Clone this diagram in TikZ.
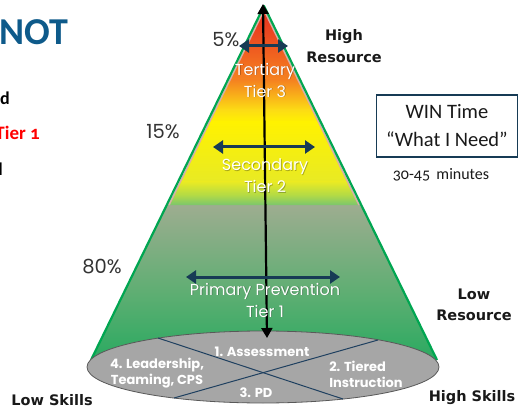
\documentclass[tikz,border=0pt]{standalone}
\usepackage{fontspec}
\setmainfont{Carlito}
\newfontfamily\geo{Poppins}
\newfontfamily\dvs{DejaVu Sans}
\newfontfamily\oldnum[Numbers=OldStyle]{Carlito}
\usetikzlibrary{arrows.meta}
\definecolor{navy}{HTML}{173B55}
\definecolor{conegreen}{HTML}{00A651}
\definecolor{divline}{HTML}{1F4060}
\definecolor{discgray}{HTML}{A6A6A6}
\definecolor{pctgray}{HTML}{333333}
\definecolor{notblue}{HTML}{0E5A8A}
\definecolor{pinkline}{HTML}{D9AFA8}
\definecolor{lowtop}{HTML}{9EAD90}
\definecolor{lowmid}{HTML}{5DAE72}
\definecolor{lowbot}{HTML}{17A85A}
\definecolor{u1}{RGB}{226,40,30}
\definecolor{u2}{RGB}{236,74,32}
\definecolor{u3}{RGB}{245,130,32}
\definecolor{u4}{RGB}{252,220,20}
\definecolor{u5}{RGB}{255,242,0}
\definecolor{u6}{RGB}{232,234,36}
\definecolor{u7}{RGB}{178,218,70}
\definecolor{u8}{RGB}{118,196,112}
\tikzset{
  pct/.style={font=\geo\fontsize{19.5}{21}\selectfont, text=pctgray, inner sep=0pt},
  tier/.style={font=\geo\fontsize{16}{22}\selectfont, text=white, align=center, inner sep=0pt},
  tiershadow/.style={tier, text=black, text opacity=0.28},
  elab/.style={font=\geo\bfseries\fontsize{13}{15.5}\selectfont, text=white, align=left, inner sep=0pt},
  side/.style={font=\dvs\bfseries\fontsize{14.5}{22.5}\selectfont, text=black!90, align=center, inner sep=0pt},
  navyarrow/.style={draw=navy, line width=3pt, {Triangle[length=10pt,width=13pt]}-{Triangle[length=10pt,width=13pt]}},
  blackarrow/.style={draw=black, line width=2.2pt, {Triangle[length=10pt,width=11pt]}-{Triangle[length=10pt,width=11pt]}},
  cut/.style={font=\bfseries\fontsize{18}{20}\selectfont, inner sep=0pt, anchor=east}
}
\begin{document}
\begin{tikzpicture}[x=1pt,y=-1pt]
\useasboundingbox (0,0) rectangle (519,414);
\clip (0,0) rectangle (519,414);

% cone fill
\coordinate (A) at (264,6);
\coordinate (L) at (91,360);
\coordinate (R) at (437,360);
\begin{scope}
  \clip (A) -- (L) -- (263,375) -- (R) -- cycle;
  \shade[top color=lowtop, bottom color=lowbot, middle color=lowmid] (80,204) rectangle (450,385);
\end{scope}
\begin{scope}
  \clip (264,10) -- (169,205) -- (359,205) -- cycle;
  \shade[top color=u1, bottom color=u2] (150,0) rectangle (380,35);
  \shade[top color=u2, bottom color=u3] (150,35) rectangle (380,80);
  \shade[top color=u3, bottom color=u4] (150,80) rectangle (380,110);
  \shade[top color=u4, bottom color=u5] (150,110) rectangle (380,122);
  \shade[top color=u5, bottom color=u6] (150,122) rectangle (380,182);
  \shade[top color=u6, bottom color=u7] (150,182) rectangle (380,195);
  \shade[top color=u7, bottom color=u8] (150,195) rectangle (380,206);
\end{scope}
\draw[pinkline, line width=1.6pt] (169,205) -- (264,10) -- (359,205);
\draw[conegreen, line width=2.2pt, line join=round] (L) -- (A) -- (R);

% base disc
\draw[draw=black!65, fill=discgray, line width=0.8pt] (263,367) ellipse [x radius=176pt, y radius=36pt];
\coordinate (d1a) at (158,338);
\coordinate (d1b) at (343,399);
\coordinate (d2a) at (174,398);
\coordinate (d2b) at (378,340);
\draw[divline, line width=1pt] (d1a) -- (d1b);
\draw[divline, line width=1pt] (d2a) -- (d2b);

% vertical arrow
\coordinate (vtop) at (263,4);
\coordinate (vbot) at (267,338);
\draw[blackarrow] (vbot) -- (vtop);

% horizontal arrows
\coordinate (h1l) at (239,46);
\coordinate (h1r) at (288,46);
\coordinate (h2l) at (213,147);
\coordinate (h2r) at (315,147);
\coordinate (h3l) at (186,277);
\coordinate (h3r) at (340,277);
\draw[navyarrow] (h1l) -- (h1r);
\draw[navyarrow] (h2l) -- (h2r);
\draw[navyarrow] (h3l) -- (h3r);

% tier texts (soft shadow + white text)
\node[tiershadow] (t3s) at (265.8,80.8) {Tertiary\\Tier 3};
\node[tiershadow] (t2s) at (265.8,176.8) {Secondary\\Tier 2};
\node[tiershadow] (t1s) at (265.8,300.8) {Primary Prevention\\Tier 1};
\node[tier] (t3) at (265,80) {Tertiary\\Tier 3};
\node[tier] (t2) at (265,176) {Secondary\\Tier 2};
\node[tier] (t1) at (265,300) {Primary Prevention\\Tier 1};

% percentages
\node[pct] (p5) at (226,40) {5\%};
\node[pct] (p15) at (163,132) {15\%};
\node[pct] (p80) at (102,267) {80\%};

% disc labels
\node[elab] (e1) at (262,352) {1. Assessment};
\node[elab, align=center] (e4) at (157,373) {4. Leadership,\\Teaming, CPS};
\node[elab] (e2) at (366,374.5) {2. Tiered\\Instruction};
\node[elab] (e3) at (256,393) {3. PD};

% side labels
\node[side] (hr) at (344,46) {High\\Resource};
\node[side, font=\dvs\bfseries\fontsize{14.5}{21}\selectfont] (lr) at (474,305) {Low\\Resource};
\node[side] (hs) at (472,398) {High Skills};
\node[side] (ls) at (52,400) {Low Skills};

% WIN box
\node[draw=navy, line width=1.3pt, minimum width=141pt, minimum height=62pt, inner sep=0pt] (win) at (447,126) {};
\node[font=\fontsize{20.5}{28}\selectfont, text=black!90, align=center, inner sep=0pt] (wintxt) at (win.center) {WIN Time\\“What I Need”};
\node[font=\oldnum\fontsize{16}{18}\selectfont, text=black!90, inner sep=0pt] (mins) at (441,175) {30-45\ \,minutes};

% cut-off left texts
\node[font=\bfseries\fontsize{38}{40}\selectfont, text=notblue, inner sep=0pt, anchor=west] (not) at (-1,32) {NOT};
\node[cut] (cd) at (10,98) {d};
\node[cut, font=\oldnum\bfseries\fontsize{19}{21}\selectfont, text=red] (ct) at (40,133) {Tier 1};
\node[cut] (cl) at (3,169) {d};
\end{tikzpicture}
\end{document}
